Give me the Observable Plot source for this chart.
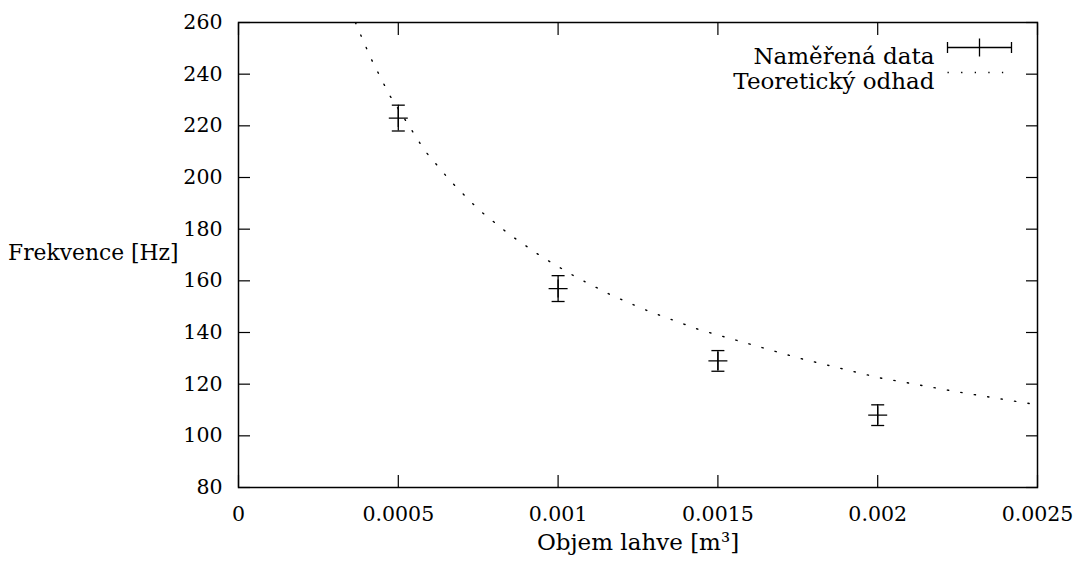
<!DOCTYPE html>
<html>
<head>
<meta charset="utf-8">
<script src="https://cdn.jsdelivr.net/npm/d3@7"></script>
<script src="https://cdn.jsdelivr.net/npm/@observablehq/plot@0.6"></script>
<style>
  html, body { margin: 0; padding: 0; background: #fff; }
</style>
</head>
<body>
<div id="chart"></div>
<script>
// Measured data (volume in m^3, frequency in Hz, error in Hz)
const volumes = [0.0005, 0.001, 0.0015, 0.002];
const freqs = [223, 157, 129, 108];
const errors = [5, 5, 4, 4];

// Theoretical estimate
const curveV = [0.000366, 0.0003777, 0.0004152, 0.0004715, 0.000582, 0.0006633, 0.000751, 0.000848, 0.00095, 0.001058, 0.001169, 0.001284, 0.001439, 0.00175, 0.002, 0.00225, 0.0025];
const curveF = [260, 256.5, 245.9, 232.1, 210.5, 198.6, 187.6, 177.9, 169.2, 161.3, 154.3, 148.2, 141.2, 130.2, 122.6, 117.0, 112.0];

// Tick labels
const xTicks = [0, 0.0005, 0.001, 0.0015, 0.002, 0.0025];
const xTickLabels = ["0", "0.0005", "0.001", "0.0015", "0.002", "0.0025"];
const yTicks = [80, 100, 120, 140, 160, 180, 200, 220, 240, 260];

const legendLabels = ["Naměřená data", "Teoretický odhad"];
const xLabel = "Objem lahve [m³]";
const yLabel = "Frekvence [Hz]";

const points = volumes.map((v, i) => ({v, f: freqs[i], e: errors[i]}));
const curve = curveV.map((v, i) => ({v, f: curveF[i]}));

const FONT = "DejaVu Serif";
const FS = 20.5;   // tick labels
const FT = 23;     // legend & axis titles

// custom line symbols
const hline = w => ({draw(ctx) { ctx.moveTo(-w, 0); ctx.lineTo(w, 0); }});
const plus = (w, h) => ({draw(ctx) { ctx.moveTo(-w, 0); ctx.lineTo(w, 0); ctx.moveTo(0, -h); ctx.lineTo(0, h); }});
const errLegend = {draw(ctx) {
  ctx.moveTo(-32, 0); ctx.lineTo(32, 0);
  ctx.moveTo(-32, -5.5); ctx.lineTo(-32, 5.5);
  ctx.moveTo(32, -5.5); ctx.lineTo(32, 5.5);
  ctx.moveTo(0, -9); ctx.lineTo(0, 9);
}};

const dotted = "1.3,12.3";
const txt = {fill: "#000", fontFamily: FONT, fontSize: FT};

const chart = Plot.plot({
  width: 1078,
  height: 567,
  marginLeft: 238,
  marginRight: 41,
  marginTop: 22,
  marginBottom: 80,
  style: {fontFamily: FONT, fontSize: FS + "px", background: "#fff", color: "#000"},
  x: {domain: [0, 0.0025]},
  y: {domain: [80, 260]},
  marks: [
    Plot.axisX({anchor: "bottom", ticks: xTicks, tickFormat: (d, i) => xTickLabels[i], tickSize: -12, tickPadding: 31, label: null, strokeWidth: 1.2, fontFamily: FONT, fontSize: FS}),
    Plot.axisX({anchor: "top", ticks: xTicks, tickFormat: () => "", tickSize: -12, label: null, strokeWidth: 1.2}),
    Plot.axisY({anchor: "left", ticks: yTicks, tickSize: -12, tickPadding: 28, label: null, strokeWidth: 1.2, fontFamily: FONT, fontSize: FS}),
    Plot.axisY({anchor: "right", ticks: yTicks, tickFormat: () => "", tickSize: -12, label: null, strokeWidth: 1.2}),
    Plot.line(curve, {x: "v", y: "f", stroke: "#000", strokeWidth: 1.4, strokeDasharray: dotted, clip: true}),
    Plot.ruleX(points, {x: "v", y1: d => d.f - d.e, y2: d => d.f + d.e, stroke: "#000", strokeWidth: 1.3}),
    Plot.dot(points, {x: "v", y: d => d.f + d.e, symbol: hline(6.5), fill: "none", stroke: "#000", strokeWidth: 1.3}),
    Plot.dot(points, {x: "v", y: d => d.f - d.e, symbol: hline(6.5), fill: "none", stroke: "#000", strokeWidth: 1.3}),
    Plot.dot(points, {x: "v", y: "f", symbol: plus(9.5, 9), fill: "none", stroke: "#000", strokeWidth: 1.3}),
    Plot.frame({stroke: "#000", strokeWidth: 1.5}),
    // legend
    Plot.text([legendLabels[0]], {frameAnchor: "top-right", textAnchor: "end", dx: -103, dy: 25, ...txt}),
    Plot.text([legendLabels[1]], {frameAnchor: "top-right", textAnchor: "end", dx: -103, dy: 50, ...txt}),
    Plot.dot([0], {frameAnchor: "top-right", dx: -58, dy: 25, symbol: errLegend, fill: "none", stroke: "#000", strokeWidth: 1.3}),
    Plot.dot([0], {frameAnchor: "top-right", dx: -58, dy: 50, symbol: hline(32), fill: "none", stroke: "#000", strokeWidth: 1.4, strokeDasharray: dotted}),
    // axis labels
    Plot.text([yLabel], {frameAnchor: "left", textAnchor: "end", dx: -60, dy: -2, ...txt, fontSize: 21.8}),
    Plot.text([xLabel], {frameAnchor: "bottom", dy: 62, ...txt})
  ]
});
document.getElementById("chart").appendChild(chart);
</script>
</body>
</html>
